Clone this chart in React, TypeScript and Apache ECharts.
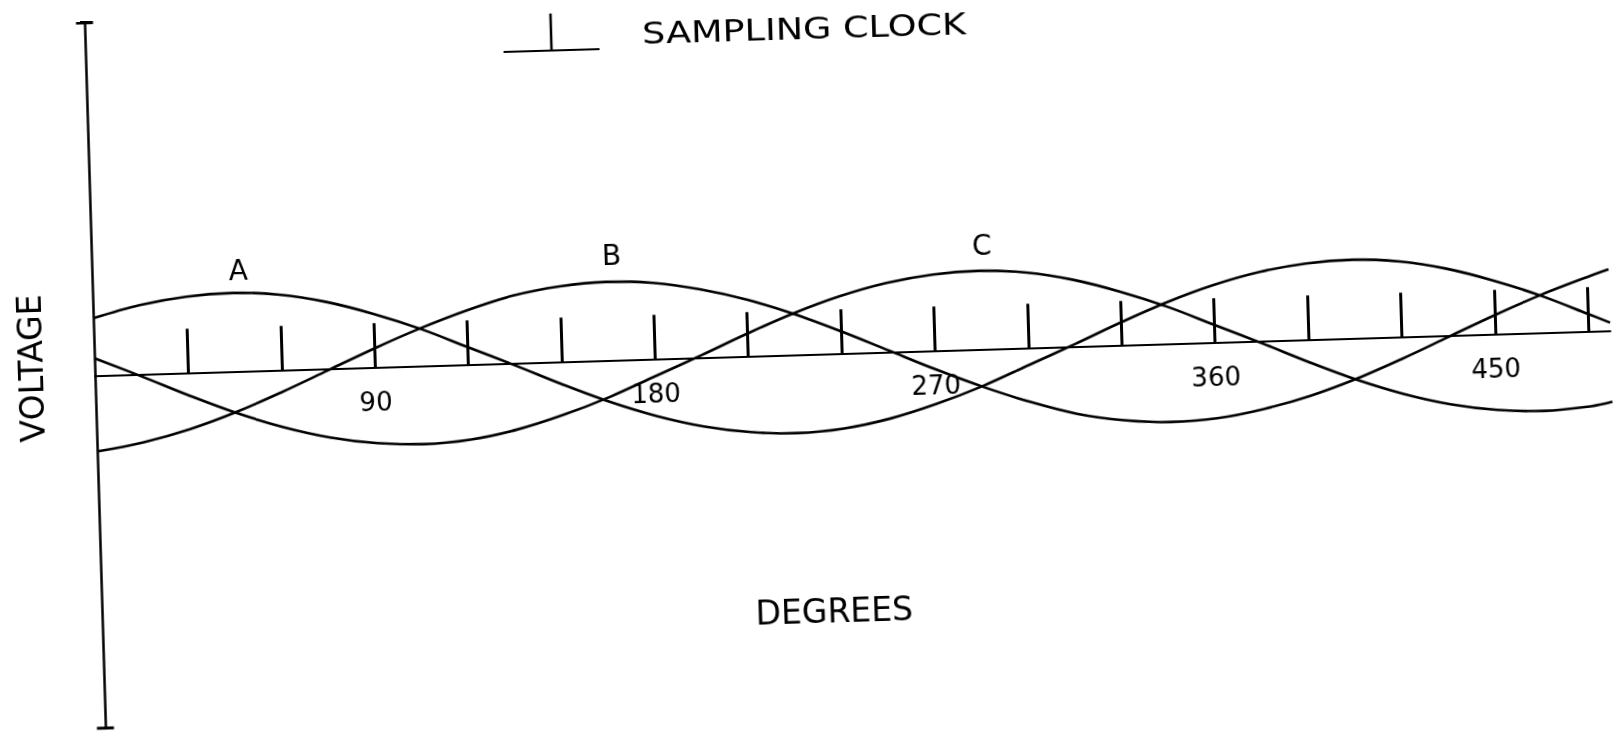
import React, { useEffect, useRef } from "react";
import * as echarts from "echarts";

// Phase angle (degrees) of each reading
const DEGREES = [0, 15, 30, 45, 60, 75, 90, 105, 120, 135, 150, 165, 180, 195, 210, 225, 240, 255, 270, 285, 300, 315, 330, 345, 360, 375, 390, 405, 420, 435, 450, 465, 480, 487];

// Voltage readings of the three waves
const WAVE_A = [0.73, 0.88, 0.97, 1.0, 0.96, 0.85, 0.68, 0.47, 0.22, -0.03, -0.29, -0.53, -0.73, -0.88, -0.97, -1.0, -0.96, -0.85, -0.68, -0.47, -0.22, 0.03, 0.29, 0.53, 0.73, 0.88, 0.97, 1.0, 0.96, 0.85, 0.68, 0.47, 0.22, 0.1];
const WAVE_B = [-0.97, -0.87, -0.72, -0.52, -0.28, -0.02, 0.24, 0.48, 0.69, 0.86, 0.96, 1.0, 0.97, 0.87, 0.72, 0.52, 0.28, 0.02, -0.24, -0.48, -0.69, -0.86, -0.96, -1.0, -0.97, -0.87, -0.72, -0.52, -0.28, -0.02, 0.24, 0.48, 0.69, 0.78];
const WAVE_C = [0.22, -0.03, -0.29, -0.53, -0.73, -0.88, -0.97, -1.0, -0.96, -0.85, -0.68, -0.47, -0.22, 0.03, 0.29, 0.53, 0.73, 0.88, 0.97, 1.0, 0.96, 0.85, 0.68, 0.47, 0.22, -0.03, -0.29, -0.53, -0.73, -0.88, -0.97, -1.0, -0.96, -0.91];

const SERIES_NAMES = ["A", "B", "C"];
// Where each wave's letter sits: [degrees, voltage]
const NAME_LABEL_AT = [
  [47, 1.28],
  [167, 1.33],
  [286, 1.32],
];

// Sampling clock ticks and degree labels
const CLOCK_TICKS = [30, 60, 90, 120, 150, 180, 210, 240, 270, 300, 330, 360, 390, 420, 450, 480];
const DEGREE_LABELS = [90, 180, 270, 360, 450];

const X_MIN = 0;
const X_MAX = 487;
const Y_MIN = -4.5;
const Y_MAX = 4.5;

const FONT = "'DejaVu Sans', sans-serif";

const GRID_TOP = 1.5;
const GRID_BOTTOM = 24;
const CHART_H = 731;

export default function App() {
  const ref = useRef<HTMLDivElement>(null);

  useEffect(() => {
    if (!ref.current) return;
    const chart = echarts.init(ref.current, null, { renderer: "svg" });
    const waves = [WAVE_A, WAVE_B, WAVE_C];

    // distance from grid bottom to the zero-volt line
    const gridH = CHART_H - GRID_TOP - GRID_BOTTOM;
    const zeroFromBottom = (gridH * (0 - Y_MIN)) / (Y_MAX - Y_MIN);

    const series = waves.map((w, i) => ({
      name: SERIES_NAMES[i],
      type: "line",
      data: DEGREES.map((d, j) => [d, w[j]]),
      symbol: "none",
      smooth: 0.35,
      lineStyle: { color: "#000", width: 2.6 },
      itemStyle: { color: "#000" },
      markPoint: {
        symbol: "circle",
        symbolSize: 0,
        itemStyle: { color: "transparent" },
        label: {
          show: true,
          position: "inside",
          formatter: SERIES_NAMES[i],
          color: "#000",
          fontSize: 28,
          fontFamily: FONT,
        },
        data: [{ coord: NAME_LABEL_AT[i], name: SERIES_NAMES[i] }],
      },
    }));

    chart.setOption({
      animation: false,
      backgroundColor: "#fff",
      grid: {
        left: 95,
        right: 10,
        top: GRID_TOP,
        bottom: GRID_BOTTOM,
        containLabel: false,
        outerBoundsMode: "none",
      },
      xAxis: {
        type: "value",
        min: X_MIN,
        max: X_MAX,
        position: "bottom",
        offset: -zeroFromBottom,
        name: "DEGREES",
        nameLocation: "middle",
        nameGap: 241,
        nameTextStyle: {
          fontSize: 33,
          color: "#000",
          fontFamily: FONT,
          padding: [0, 52, 0, 0],
        },
        axisLine: { show: true, onZero: false, lineStyle: { color: "#000", width: 2 } },
        axisTick: {
          show: true,
          inside: true,
          length: 44,
          customValues: CLOCK_TICKS,
          lineStyle: { color: "#000", width: 3 },
        },
        axisLabel: {
          show: true,
          customValues: DEGREE_LABELS,
          margin: 22,
          color: "#000",
          fontSize: 26,
          fontFamily: FONT,
        },
        splitLine: { show: false },
      },
      yAxis: {
        type: "value",
        min: Y_MIN,
        max: Y_MAX,
        name: "VOLTAGE",
        nameLocation: "middle",
        nameGap: 47,
        nameRotate: 90,
        nameTextStyle: {
          fontSize: 33,
          color: "#000",
          fontFamily: FONT,
          padding: [0, 0, 0, 18],
        },
        axisLine: {
          show: true,
          onZero: false,
          symbol: ["rect", "rect"],
          symbolSize: [17, 3],
          lineStyle: { color: "#000", width: 2.5 },
        },
        axisTick: { show: false },
        axisLabel: { show: false },
        splitLine: { show: false },
      },
      graphic: [
        {
          type: "line",
          shape: { x1: 513, y1: 43, x2: 609, y2: 43 },
          style: { stroke: "#000", lineWidth: 2 },
        },
        {
          type: "line",
          shape: { x1: 561, y1: 6, x2: 561, y2: 43 },
          style: { stroke: "#000", lineWidth: 2.5 },
        },
        {
          type: "text",
          x: 814,
          y: 29,
          scaleX: 1.22,
          style: {
            text: "SAMPLING CLOCK",
            font: "30px 'DejaVu Sans', sans-serif",
            fill: "#000",
            align: "center",
            verticalAlign: "middle",
            textAlign: "center",
            textVerticalAlign: "middle",
          },
        },
      ],
      series,
    });

    return () => chart.dispose();
  }, []);

  return (
    <div
      ref={ref}
      style={{
        position: "fixed",
        left: 0,
        top: 0,
        width: "1621px",
        height: "731px",
        transform: "rotate(-1.7deg)",
        background: "#fff",
      }}
    />
  );
}
